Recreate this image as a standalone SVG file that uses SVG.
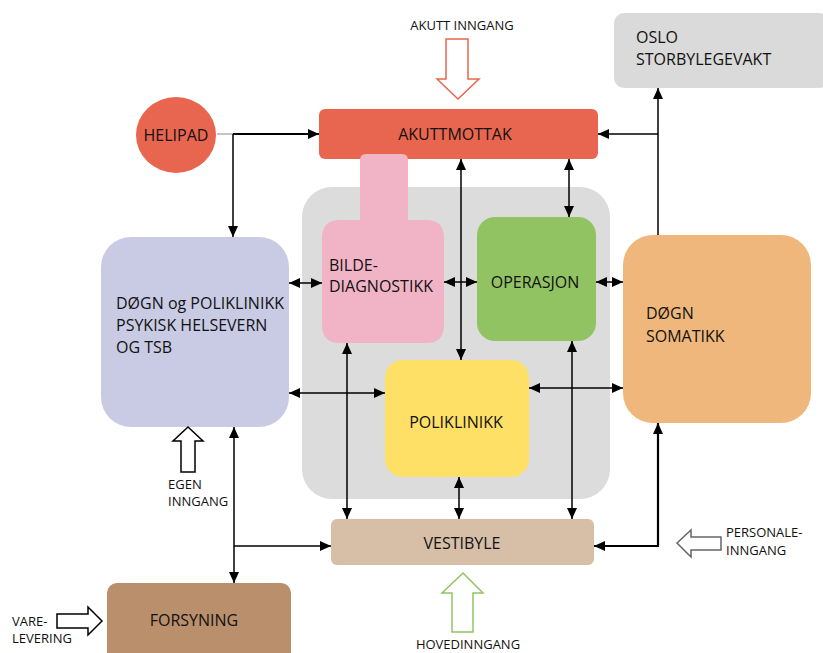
<svg xmlns="http://www.w3.org/2000/svg" width="823" height="653" viewBox="0 0 823 653">
<style>
text{font-family:"Open Sans","Liberation Sans",sans-serif;fill:#111}
.n{font-size:16px}
.s{font-size:13px}
.c{stroke:#000;stroke-width:1.5;fill:none}
.k{stroke:#000;stroke-width:2.2;fill:none}
</style>
<defs>
<marker id="ah" markerUnits="userSpaceOnUse" markerWidth="12" markerHeight="12" refX="11" refY="6" orient="auto-start-reverse" viewBox="0 0 12 12">
<path d="M0,1 L11,6 L0,11 Z" fill="#000"/>
</marker>
</defs>
<rect x="302" y="187" width="308" height="312" rx="30" fill="#DCDCDC"/>
<g id="helipad"><ellipse cx="176" cy="135" rx="40" ry="38" fill="#E8664F"/><text class="n" x="176" y="141" text-anchor="middle">HELIPAD</text></g>
<g id="akuttmottak"><rect x="319" y="109" width="279" height="50" rx="6" fill="#E8664F"/><text class="n" x="455" y="140" text-anchor="middle">AKUTTMOTTAK</text></g>
<g id="oslo"><rect x="614" y="13" width="215" height="75" rx="10" fill="#DADADA"/><text class="n" x="636" y="43">OSLO</text><text class="n" x="636" y="65">STORBYLEGEVAKT</text></g>
<g id="bilde"><path d="M366,154 H402 Q408,154 408,160 V220 H426 Q444,220 444,238 V325 Q444,343 426,343 H340 Q322,343 322,325 V238 Q322,220 340,220 H360 V160 Q360,154 366,154 Z" fill="#F1B3C6"/><text class="n" x="329" y="271">BILDE-</text><text class="n" x="329" y="292">DIAGNOSTIKK</text></g>
<g id="operasjon"><rect x="477" y="217" width="119" height="124" rx="18" fill="#92C363"/><text class="n" x="535" y="288" text-anchor="middle">OPERASJON</text></g>
<g id="psyk"><rect x="101" y="237" width="188" height="190" rx="30" fill="#C9CBE4"/><text class="n" x="116" y="309">DØGN og POLIKLINIKK</text><text class="n" x="116" y="331">PSYKISK HELSEVERN</text><text class="n" x="116" y="353">OG TSB</text></g>
<g id="somatikk"><rect x="623" y="235" width="188" height="188" rx="30" fill="#EFB77C"/><text class="n" x="646" y="319">DØGN</text><text class="n" x="646" y="342">SOMATIKK</text></g>
<g id="poliklinikk"><rect x="385" y="360" width="144" height="117" rx="18" fill="#FFE066"/><text class="n" x="456" y="428" text-anchor="middle">POLIKLINIKK</text></g>
<g id="vestibyle"><rect x="331" y="519" width="263" height="46" rx="6" fill="#D7BFA7"/><text class="n" x="462" y="549" text-anchor="middle">VESTIBYLE</text></g>
<g id="forsyning"><rect x="107" y="583" width="184" height="80" rx="10" fill="#B98F6C"/><text class="n" x="194" y="626" text-anchor="middle">FORSYNING</text></g>
<g id="akutt-inngang"><text class="s" x="462" y="30" text-anchor="middle">AKUTT INNGANG</text><path d="M446,39 H468 V79 H479 L458,99 L437,79 H446 Z" fill="#fff" stroke="#E8664F" stroke-width="1.5"/></g>
<g id="egen-inngang"><path d="M188,427 L203,441 H195 V472 H181 V441 H173 Z" fill="#fff" stroke="#000" stroke-width="1.5"/><text class="s" x="168" y="489">EGEN</text><text class="s" x="168" y="506">INNGANG</text></g>
<g id="varelevering"><text class="s" x="12" y="626">VARE-</text><text class="s" x="12" y="643">LEVERING</text><path d="M57,614 H88 V607 L102,621 L88,635 V628 H57 Z" fill="#fff" stroke="#000" stroke-width="1.5"/></g>
<g id="personale"><path d="M677,543 L691,530 V537 H721 V550 H691 V557 Z" fill="#fff" stroke="#666" stroke-width="1.5"/><text class="s" x="726" y="537">PERSONALE-</text><text class="s" x="726" y="555">INNGANG</text></g>
<g id="hovedinngang"><path d="M463,573 L483,593 H473 V632 H452 V593 H442 Z" fill="#fff" stroke="#92C363" stroke-width="1.5"/><text class="s" x="468" y="649" text-anchor="middle">HOVEDINNGANG</text></g>
<g id="connectors">
<line x1="217" y1="134" x2="233" y2="134" stroke="#888" stroke-width="1"/>
<line class="k" x1="233" y1="134" x2="319" y2="134" marker-end="url(#ah)"/>
<line class="c" x1="233" y1="134" x2="233" y2="237" marker-end="url(#ah)"/>
<line class="c" x1="658" y1="235" x2="658" y2="88" marker-end="url(#ah)"/>
<line class="c" x1="658" y1="134" x2="598" y2="134" marker-end="url(#ah)"/>
<line class="c" x1="569" y1="159" x2="569" y2="217" marker-start="url(#ah)" marker-end="url(#ah)"/>
<line class="c" x1="461" y1="159" x2="461" y2="360" marker-start="url(#ah)" marker-end="url(#ah)"/>
<line class="c" x1="289" y1="283" x2="322" y2="283" marker-start="url(#ah)" marker-end="url(#ah)"/>
<line class="c" x1="444" y1="282" x2="477" y2="282" marker-start="url(#ah)" marker-end="url(#ah)"/>
<line class="c" x1="596" y1="282" x2="623" y2="282" marker-start="url(#ah)" marker-end="url(#ah)"/>
<line class="c" x1="289" y1="393" x2="385" y2="393" marker-start="url(#ah)" marker-end="url(#ah)"/>
<line class="c" x1="529" y1="388" x2="623" y2="388" marker-start="url(#ah)" marker-end="url(#ah)"/>
<line class="c" x1="347" y1="343" x2="347" y2="519" marker-start="url(#ah)" marker-end="url(#ah)"/>
<line class="c" x1="572" y1="341" x2="572" y2="519" marker-start="url(#ah)" marker-end="url(#ah)"/>
<line class="c" x1="459" y1="477" x2="459" y2="519" marker-start="url(#ah)" marker-end="url(#ah)"/>
<line class="c" x1="234" y1="427" x2="234" y2="583" marker-start="url(#ah)" marker-end="url(#ah)"/>
<line class="c" x1="234" y1="546" x2="331" y2="546" marker-end="url(#ah)"/>
<path class="k" d="M658,423 V546 H594" marker-start="url(#ah)" marker-end="url(#ah)"/>
</g>
</svg>
